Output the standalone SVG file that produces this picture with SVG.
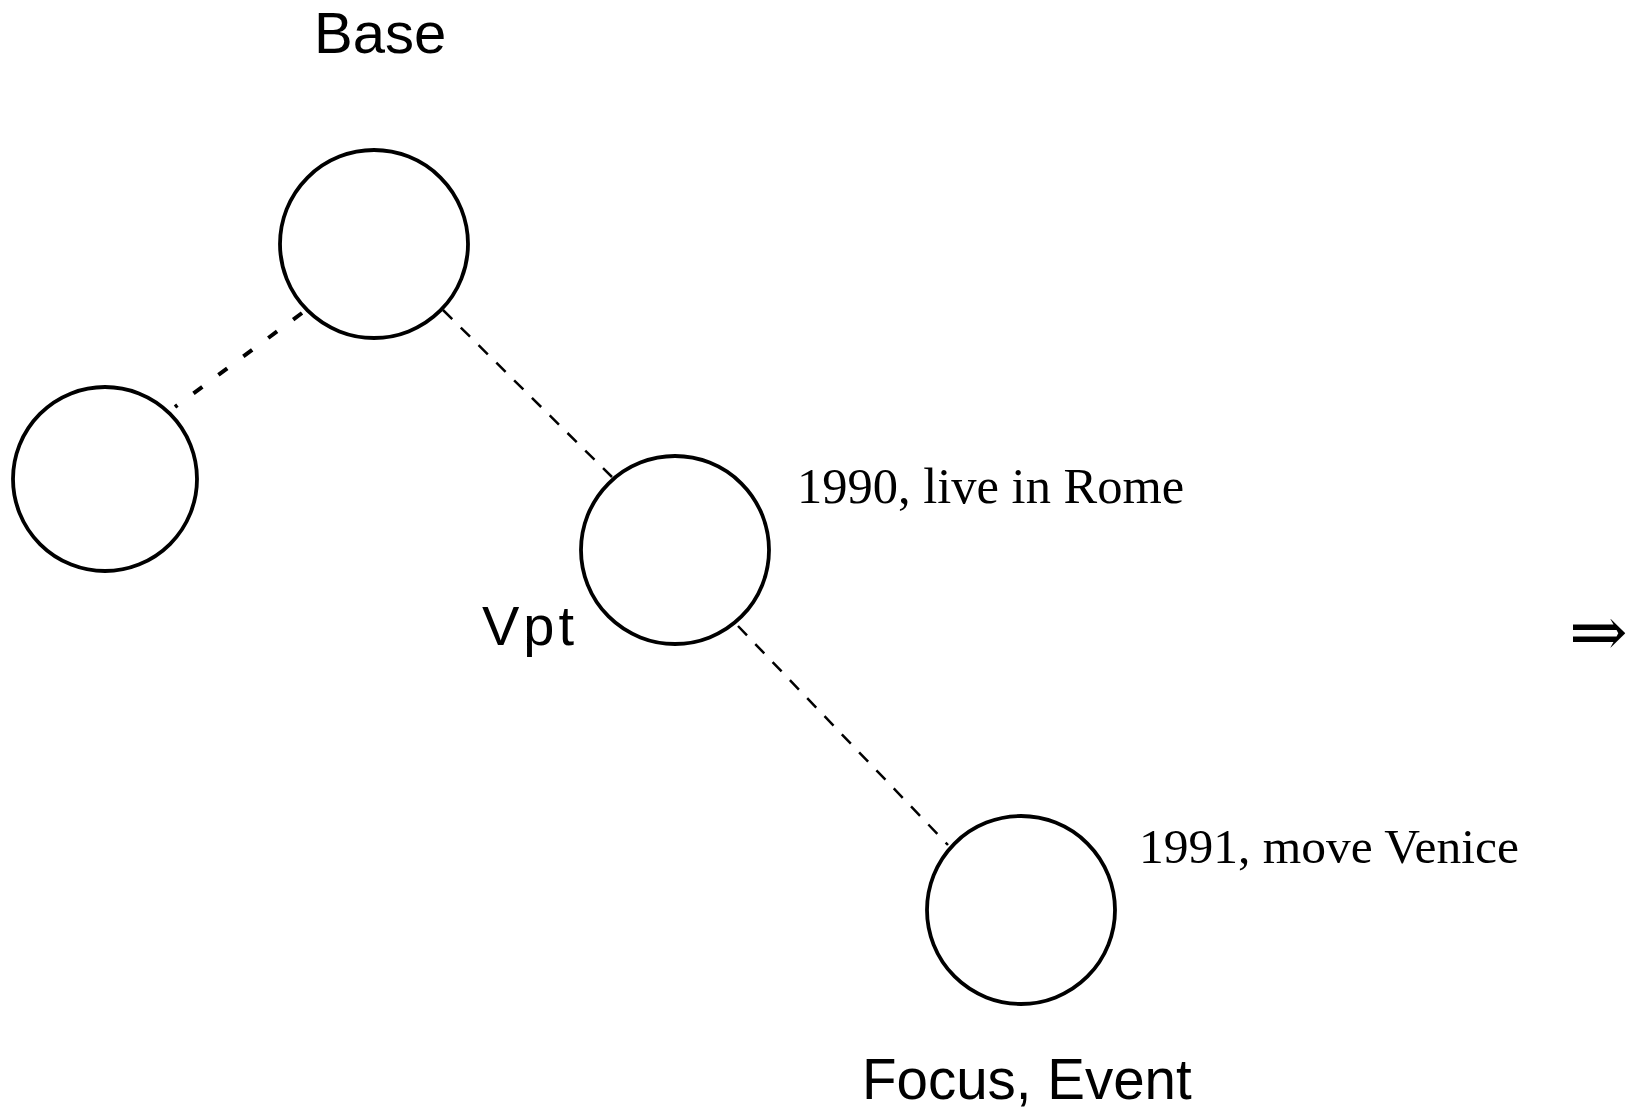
<svg xmlns="http://www.w3.org/2000/svg" width="1627" height="1111" viewBox="0 0 1627 1111">
<style>
.node{fill:none;stroke:#000;stroke-width:3.8}
.sans{font-family:"Liberation Sans",Arial,sans-serif;fill:#000}
.serif{font-family:"Liberation Serif","Times New Roman",serif;fill:#000}
.edge{fill:none;stroke:#000;stroke-width:2.5;stroke-dasharray:13 12}
</style>
<rect width="1627" height="1111" fill="#fff"/>
<g id="connectors">
<line class="edge" x1="302" y1="313" x2="175" y2="407" style="stroke-width:4;stroke-dasharray:11 20"/>
<line class="edge" x1="443" y1="310" x2="612" y2="477"/>
<line class="edge" x1="738" y1="626" x2="948" y2="845"/>
</g>
<g id="base">
<circle class="node" cx="374" cy="244" r="94"/>
<text class="sans" x="314" y="53" font-size="58">Base</text>
</g>
<g id="left">
<circle class="node" cx="105" cy="479" r="92"/>
</g>
<g id="vpt">
<circle class="node" cx="675" cy="550" r="94"/>
<text class="sans" x="482" y="645" font-size="56" letter-spacing="4">Vpt</text>
<text class="serif" x="797" y="503" font-size="50.5">1990, live in Rome</text>
</g>
<g id="focus">
<circle class="node" cx="1021" cy="910" r="94"/>
<text class="sans" x="862" y="1099" font-size="56.5">Focus, Event</text>
<text class="serif" x="1139" y="863" font-size="49.5">1991, move Venice</text>
</g>
<text id="arrow" x="1569" y="656" font-family="'DejaVu Serif','DejaVu Sans',serif" font-size="70">⇒</text>
</svg>
